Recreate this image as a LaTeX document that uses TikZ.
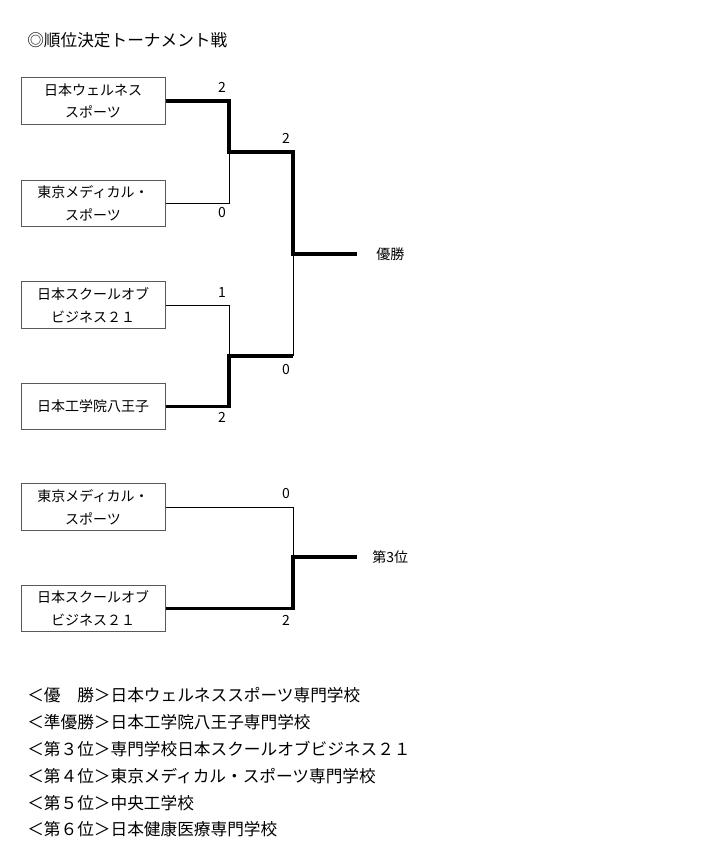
\documentclass[tikz,border=0pt]{standalone}
\usepackage{fontspec}
\setmainfont{Noto Sans CJK JP}
\begin{document}
\begin{tikzpicture}[x=0.75pt, y=-0.75pt,
  team/.style={draw=black!65, line width=0.75pt, minimum width=108pt, minimum height=35pt, align=center, font=\fontsize{10.5}{17}\selectfont, inner sep=0pt},
  score/.style={font=\fontsize{10.5}{12}\selectfont, inner sep=0pt},
  lose/.style={line width=0.75pt},
  win/.style={line width=2.5pt, line join=miter},
  line/.style={anchor=west, inner sep=0pt, font=\fontsize{12.5}{14}\selectfont}]
\useasboundingbox[fill=white] (0,0) rectangle (700,867);
\node[line] (title) at (27,40){◎順位決定トーナメント戦};
\node[team] (team1) at (93,101){日本ウェルネス\\スポーツ};
\node[team] (team2) at (93,203.5){東京メディカル・\\スポーツ};
\node[team] (team3) at (93,305){日本スクールオブ\\ビジネス２１};
\node[team] (team4) at (93,406.5){日本工学院八王子};
\node[team] (team5) at (93,507){東京メディカル・\\スポーツ};
\node[team] (team6) at (93,608.5){日本スクールオブ\\ビジネス２１};
\coordinate (sf1) at (229,152);
\coordinate (sf2) at (229,356);
\coordinate (up1) at (293,152);
\coordinate (up2) at (293,356);
\coordinate (fin) at (293,254);
\coordinate (finend) at (357,254);
\coordinate (thd) at (293,557);
\coordinate (thdend) at (357,557);
\draw[lose](team2.east) -| (sf1);
\draw[lose](team3.east) -| (sf2);
\draw[lose](up2) -- (fin);
\draw[lose](team5.east) -| (thd);
\draw[win](team1.east) -| (sf1) -- (up1) -- (fin) -- (finend);
\draw[win](team4.east) -| (sf2) -- (up2);
\draw[win](team6.east) -| (thd) -- (thdend);
\node[score] (s1) at (222,87){2};
\node[score] (s2) at (222,213){0};
\node[score] (s3) at (222,293){1};
\node[score] (s4) at (222,417){2};
\node[score] (s5) at (286,138){2};
\node[score] (s6) at (286,370){0};
\node[score] (s7) at (286,494){0};
\node[score] (s8) at (286,620){2};
\node[score, anchor=west] (champ) at (376,254){優勝};
\node[score, anchor=west] (third) at (372,557){第3位};
\node[line] (r1) at (27,695){＜優　勝＞日本ウェルネススポーツ専門学校};
\node[line] (r2) at (27,722){＜準優勝＞日本工学院八王子専門学校};
\node[line] (r3) at (27,749){＜第３位＞専門学校日本スクールオブビジネス２１};
\node[line] (r4) at (27,776){＜第４位＞東京メディカル・スポーツ専門学校};
\node[line] (r5) at (27,803){＜第５位＞中央工学校};
\node[line] (r6) at (27,829){＜第６位＞日本健康医療専門学校};
\end{tikzpicture}
\end{document}
